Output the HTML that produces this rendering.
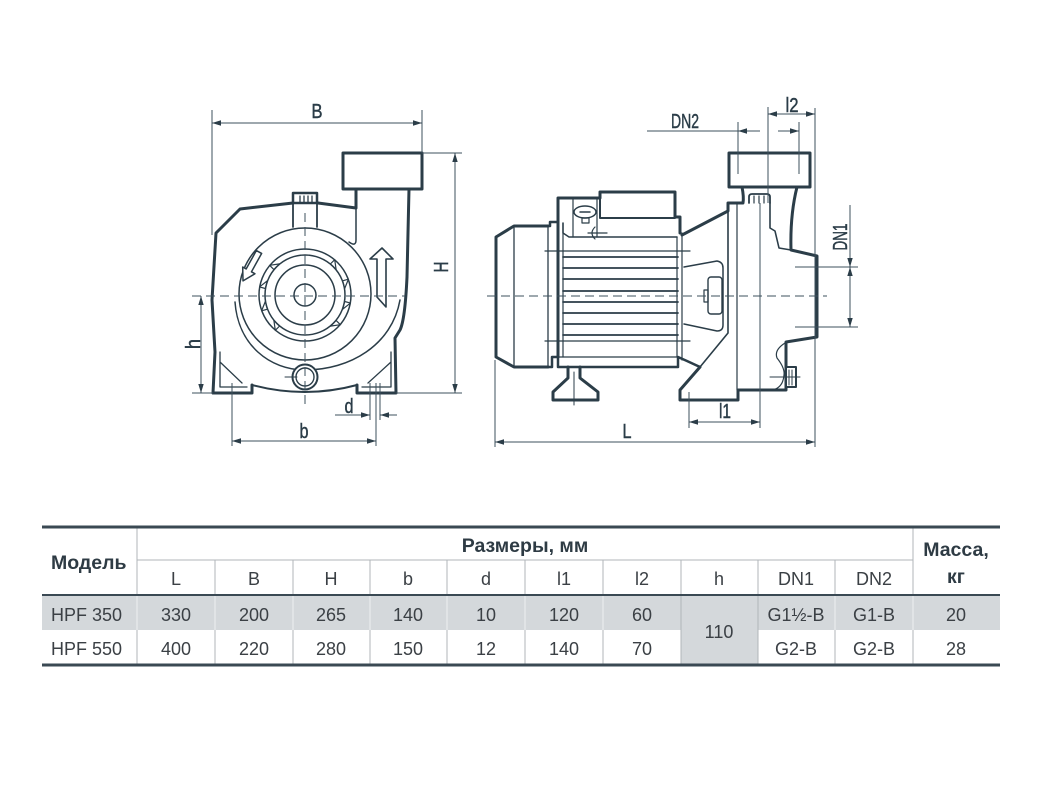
<!DOCTYPE html>
<html><head><meta charset="utf-8"><style>
html,body{margin:0;padding:0;background:#fff;}
svg{display:block}
</style></head><body>
<svg width="1042" height="800" viewBox="0 0 1042 800" xmlns="http://www.w3.org/2000/svg">
<defs>
<marker id="a" viewBox="0 0 10 6" refX="10" refY="3" markerWidth="9" markerHeight="6" orient="auto-start-reverse" markerUnits="userSpaceOnUse"><path d="M0,0 L10,3 L0,6 z" fill="#2b3d48"/></marker>
</defs>
<rect width="1042" height="800" fill="#fff"/>

<!-- ================= LEFT VIEW ================= -->
<g fill="none" stroke="#2b3d48" stroke-linecap="round" stroke-linejoin="round">
  <rect x="343" y="153" width="79" height="36" stroke-width="3"/>
  <path d="M356,189 L356,208 L318,203 M293,203 L240,209 L216,233 L212,300 L215,352 L213,393 L252,393 L252,385" stroke-width="3"/>
  <path d="M409,189 L407,277 Q405,320 400,330 L395,338 L396,393 L357,393 L357,385" stroke-width="3"/>
  <path d="M252,385 Q305,399 357,385" stroke-width="2"/>
  <rect x="293" y="193" width="24" height="10" stroke-width="2.5"/>
  <path d="M300,196 L300,202 M304,196 L304,202 M308,196 L308,202 M312,196 L312,202" stroke-width="1.3"/>
  <path d="M293,203 L293,227 M317,203 L317,227" stroke-width="1.8"/>
  <circle cx="305" cy="294" r="66" stroke-width="1.5"/>
  <path d="M349,242 Q356,247 356,240 L356,208" stroke-width="1.5"/>
  <path d="M235,302 C238,345 270,370 305,370 C350,370 392,345 400,300" stroke-width="1.5"/>
  <circle cx="305" cy="295" r="46" stroke-width="1.5"/>
  <circle cx="305" cy="295" r="40" stroke-width="1.5"/>
  <circle cx="305" cy="295" r="30" stroke-width="1.5"/>
  <circle cx="305" cy="295" r="11" stroke-width="1.5"/>
  <g stroke-width="1.2">
    <polygon points="345,291 351,291 345,299" transform="rotate(15 305 295)"/>
    <polygon points="345,291 351,291 345,299" transform="rotate(45 305 295)"/>
    <polygon points="345,291 351,291 345,299" transform="rotate(135 305 295)"/>
    <polygon points="345,291 351,291 345,299" transform="rotate(165 305 295)"/>
    <polygon points="345,291 351,291 345,299" transform="rotate(195 305 295)"/>
    <polygon points="345,291 351,291 345,299" transform="rotate(225 305 295)"/>
    <polygon points="345,291 351,291 345,299" transform="rotate(315 305 295)"/>
    <polygon points="345,291 351,291 345,299" transform="rotate(345 305 295)"/>
  </g>
  <polygon points="382,248 393,259 386,259 386,307 377,297 377,259 370,259" stroke-width="1.6" fill="#fff"/>
  <polygon points="0,-3 21,-3 21,-7 33,0 21,7 21,3 0,3" transform="translate(259,252) rotate(119)" stroke-width="1.5" fill="#fff"/>
  <circle cx="305" cy="377" r="12.5" stroke-width="2" fill="#fff"/>
  <circle cx="305" cy="377" r="9" stroke-width="1.4"/>
  <path d="M285,377 L297,377" stroke-width="1"/>
  <path d="M220,352 L220,387 L247,387 M220,362 L242,383" stroke-width="1.3"/>
  <path d="M391,352 L391,387 L362,387 M391,362 L368,383" stroke-width="1.3"/>
</g>
<g stroke="#3d505c" stroke-width="1" stroke-dasharray="9,5" fill="none">
  <path d="M192,296 L405,296"/>
  <path d="M305,213 L305,405"/>
</g>
<g stroke="#3d505c" stroke-width="1" fill="none">
  <path d="M212,110 L212,235 M422,110 L422,153"/>
  <path d="M212,123 L422,123" marker-start="url(#a)" marker-end="url(#a)"/>
  <path d="M422,153 L462,153 M396,393 L462,393 M192,393 L213,393"/>
  <path d="M455,153 L455,393" marker-start="url(#a)" marker-end="url(#a)"/>
  <path d="M201,296 L201,393" marker-start="url(#a)" marker-end="url(#a)"/>
  <path d="M232,383 L232,446 M376,383 L376,446"/>
  <path d="M232,441 L376,441" marker-start="url(#a)" marker-end="url(#a)"/>
  <path d="M370,383 L370,420 M380,383 L380,420"/>
  <path d="M335,415 L370,415" marker-end="url(#a)"/>
  <path d="M397,415 L380,415" marker-end="url(#a)"/>
</g>

<!-- ================= RIGHT VIEW ================= -->
<g fill="none" stroke="#2b3d48" stroke-linecap="round" stroke-linejoin="round">
  <path d="M548,226 L514,226 L496,237 L496,357 L514,367 L548,367" stroke-width="3"/>
  <path d="M548,226 L550,226 L550,222 L558,222 M548,367 L552,367 L552,357 L558,357" stroke-width="2.5"/>
  <path d="M514,226 L514,367 M548,226 L548,367" stroke-width="1.3"/>
  <path d="M558,357 L558,198 L600,198 L600,192 L675,192 L675,217 L680,217 L680,233" stroke-width="3"/>
  <path d="M600,198 L600,218 L675,218" stroke-width="2"/>
  <path d="M563,223 L563,233 L569,237 L677,237" stroke-width="1.5"/>
  <path d="M573,198 L573,237 M597,198 L597,237" stroke-width="1.2"/>
  <ellipse cx="585" cy="212" rx="11" ry="6" stroke-width="1.5" fill="#fff"/>
  <path d="M580,212 L590,212" stroke-width="1.5"/>
  <rect x="582" y="218" width="7" height="5" stroke-width="1.2"/>
  <path d="M588,233 L607,233 M595,227 Q589,233 595,239" stroke-width="1.2"/>
  <path d="M545,251 L690,251 M545,341 L690,341" stroke-width="1.2"/>
  <g stroke-width="1.8">
    <path d="M563,257 L678,257 M563,268 L678,268 M563,279 L678,279 M563,291 L678,291 M563,302 L678,302 M563,313 L678,313 M563,324 L678,324 M563,335 L678,335"/>
  </g>
  <path d="M563,223 L563,357 M677,237 L677,357 M682,233 L682,360" stroke-width="1.2"/>
  <path d="M558,357 L678,357" stroke-width="1.3"/>
  <path d="M558,357 L558,367 L678,367 L678,357 L687,361 L700,367" stroke-width="2.5"/>
  <path d="M568,367 L568,378 L553,392 L553,400 L598,400 L598,392 L580,378 L580,367" stroke-width="3"/>
  <path d="M574,372 L574,405" stroke-width="1"/>
  <path d="M742,187 Q744,197 743,203 L728,203 L728,211 L682,235" stroke-width="3"/>
  <rect x="729" y="153" width="81" height="34" stroke-width="3"/>
  <path d="M797,187 Q790,215 791,250 L817,256 L817,337 L786,342 L786,390 L738,390 L738,400 L680,400 L680,390 L700,367" stroke-width="3"/>
  <path d="M700,367 L728,333 L728,211" stroke-width="1.6"/>
  <path d="M737,203 L737,390" stroke-width="1.2"/>
  <path d="M770,203 L770,228 L775,231 L779,248 L791,250" stroke-width="1.6"/>
  <path d="M785,343 Q774,350 777,358 Q785,368 784,375 Q783,388 772,390" stroke-width="1.2"/>
  <path d="M749,203 L749,197 Q749,194 752,194 L767,194 Q770,194 770,197 L770,203" stroke-width="1.8"/>
  <path d="M754,196 L754,203 M759,196 L759,203 M764,196 L764,203" stroke-width="1.2"/>
  <rect x="786" y="367" width="10" height="20" stroke-width="2" fill="#fff"/>
  <path d="M789,370 L789,385 M792,370 L792,385 M770,377 L800,377" stroke-width="1"/>
  <path d="M684,267 L717,261 Q723,262 723,268 L723,325 Q723,331 717,331 L684,324" stroke-width="1.5"/>
  <rect x="708" y="277" width="14" height="37" rx="3" stroke-width="1.4"/>
  <rect x="704" y="290" width="4" height="12" stroke-width="1.2"/>
</g>
<path d="M487,296 L827,296" stroke="#3d505c" stroke-width="1" stroke-dasharray="9,5" fill="none"/>
<g stroke="#3d505c" stroke-width="1" fill="none">
  <path d="M495,360 L495,447 M815,108 L815,447"/>
  <path d="M495,442 L815,442" marker-start="url(#a)" marker-end="url(#a)"/>
  <path d="M768,107 L768,203"/>
  <path d="M768,114 L815,114" marker-start="url(#a)" marker-end="url(#a)"/>
  <path d="M738,122 L738,174 M799,122 L799,174"/>
  <path d="M647,131 L738,131"/>
  <path d="M760,131 L738,131" marker-end="url(#a)"/>
  <path d="M778,131 L799,131" marker-end="url(#a)"/>
  <path d="M795,267 L858,267 M795,327 L858,327"/>
  <path d="M850,205 L850,267" marker-end="url(#a)"/>
  <path d="M850,267 L850,327" marker-start="url(#a)" marker-end="url(#a)"/>
  <path d="M689,392 L689,428 M760,203 L760,428"/>
  <path d="M689,422 L760,422" marker-start="url(#a)" marker-end="url(#a)"/>
</g>

<!-- labels -->
<g font-family="'Liberation Sans Narrow','Liberation Sans',sans-serif" font-size="20" fill="#2b3d48" stroke="#2b3d48" stroke-width="0.45" text-anchor="middle">
  <text x="317" y="118" textLength="11" lengthAdjust="spacingAndGlyphs">B</text>
  <text transform="translate(448,267) rotate(-90)" textLength="11" lengthAdjust="spacingAndGlyphs">H</text>
  <text transform="translate(200,344) rotate(-90)" textLength="10" lengthAdjust="spacingAndGlyphs">h</text>
  <text x="304" y="438" textLength="9" lengthAdjust="spacingAndGlyphs">b</text>
  <text x="349" y="413" textLength="9" lengthAdjust="spacingAndGlyphs">d</text>
  <text x="627" y="438" textLength="9" lengthAdjust="spacingAndGlyphs">L</text>
  <text x="725" y="418" textLength="12" lengthAdjust="spacingAndGlyphs">l1</text>
  <text x="685" y="128" textLength="28" lengthAdjust="spacingAndGlyphs">DN2</text>
  <text x="792" y="112" textLength="13" lengthAdjust="spacingAndGlyphs">l2</text>
  <text transform="translate(847,237) rotate(-90)" textLength="27" lengthAdjust="spacingAndGlyphs">DN1</text>
</g>

<!-- ================= TABLE ================= -->
<rect x="42" y="596" width="958" height="34" fill="#d4d8db"/>
<rect x="681" y="596" width="77" height="69" fill="#d4d8db"/>
<g stroke="#b0b6ba" stroke-width="1">
  <path d="M137,527 L137,665 M913,527 L913,665"/>
  <path d="M215,560 L215,665 M293,560 L293,665 M370,560 L370,665 M447,560 L447,665 M525,560 L525,665 M603,560 L603,665 M681,560 L681,665 M758,560 L758,665 M835,560 L835,665"/>
  <path d="M137,560 L913,560"/>
</g>
<g stroke="#eef0f1" stroke-width="1">
  <path d="M137,596 L137,630 M913,596 L913,630 M215,596 L215,630 M293,596 L293,630 M370,596 L370,630 M447,596 L447,630 M525,596 L525,630 M603,596 L603,630 M835,596 L835,630"/>
</g>
<g stroke="#3a4953">
  <path d="M42,527 L1000,527" stroke-width="3"/>
  <path d="M42,595 L1000,595" stroke-width="2"/>
  <path d="M42,665 L1000,665" stroke-width="3"/>
</g>
<g font-family="'Liberation Sans',sans-serif" font-weight="bold" font-size="19.5" fill="#2e3b44">
  <text x="51" y="569">Модель</text>
  <text x="525" y="552" text-anchor="middle">Размеры, мм</text>
  <text x="956" y="556" text-anchor="middle">Масса,</text>
  <text x="956" y="583" text-anchor="middle">кг</text>
</g>
<g font-family="'Liberation Sans',sans-serif" font-size="18" fill="#3b4045" text-anchor="middle">
  <text x="176" y="585">L</text>
  <text x="254" y="585">B</text>
  <text x="331" y="585">H</text>
  <text x="408" y="585">b</text>
  <text x="486" y="585">d</text>
  <text x="564" y="585">l1</text>
  <text x="642" y="585">l2</text>
  <text x="719" y="585">h</text>
  <text x="796" y="585">DN1</text>
  <text x="874" y="585">DN2</text>

  <text x="176" y="621">330</text>
  <text x="254" y="621">200</text>
  <text x="331" y="621">265</text>
  <text x="408" y="621">140</text>
  <text x="486" y="621">10</text>
  <text x="564" y="621">120</text>
  <text x="642" y="621">60</text>
  <text x="796" y="621">G1½-B</text>
  <text x="874" y="621">G1-B</text>
  <text x="956" y="621">20</text>

  <text x="719" y="638">110</text>

  <text x="176" y="655">400</text>
  <text x="254" y="655">220</text>
  <text x="331" y="655">280</text>
  <text x="408" y="655">150</text>
  <text x="486" y="655">12</text>
  <text x="564" y="655">140</text>
  <text x="642" y="655">70</text>
  <text x="796" y="655">G2-B</text>
  <text x="874" y="655">G2-B</text>
  <text x="956" y="655">28</text>
</g>
<g font-family="'Liberation Sans',sans-serif" font-size="18" fill="#3b4045">
  <text x="51" y="621">HPF 350</text>
  <text x="51" y="655">HPF 550</text>
</g>
</svg>
</body></html>
